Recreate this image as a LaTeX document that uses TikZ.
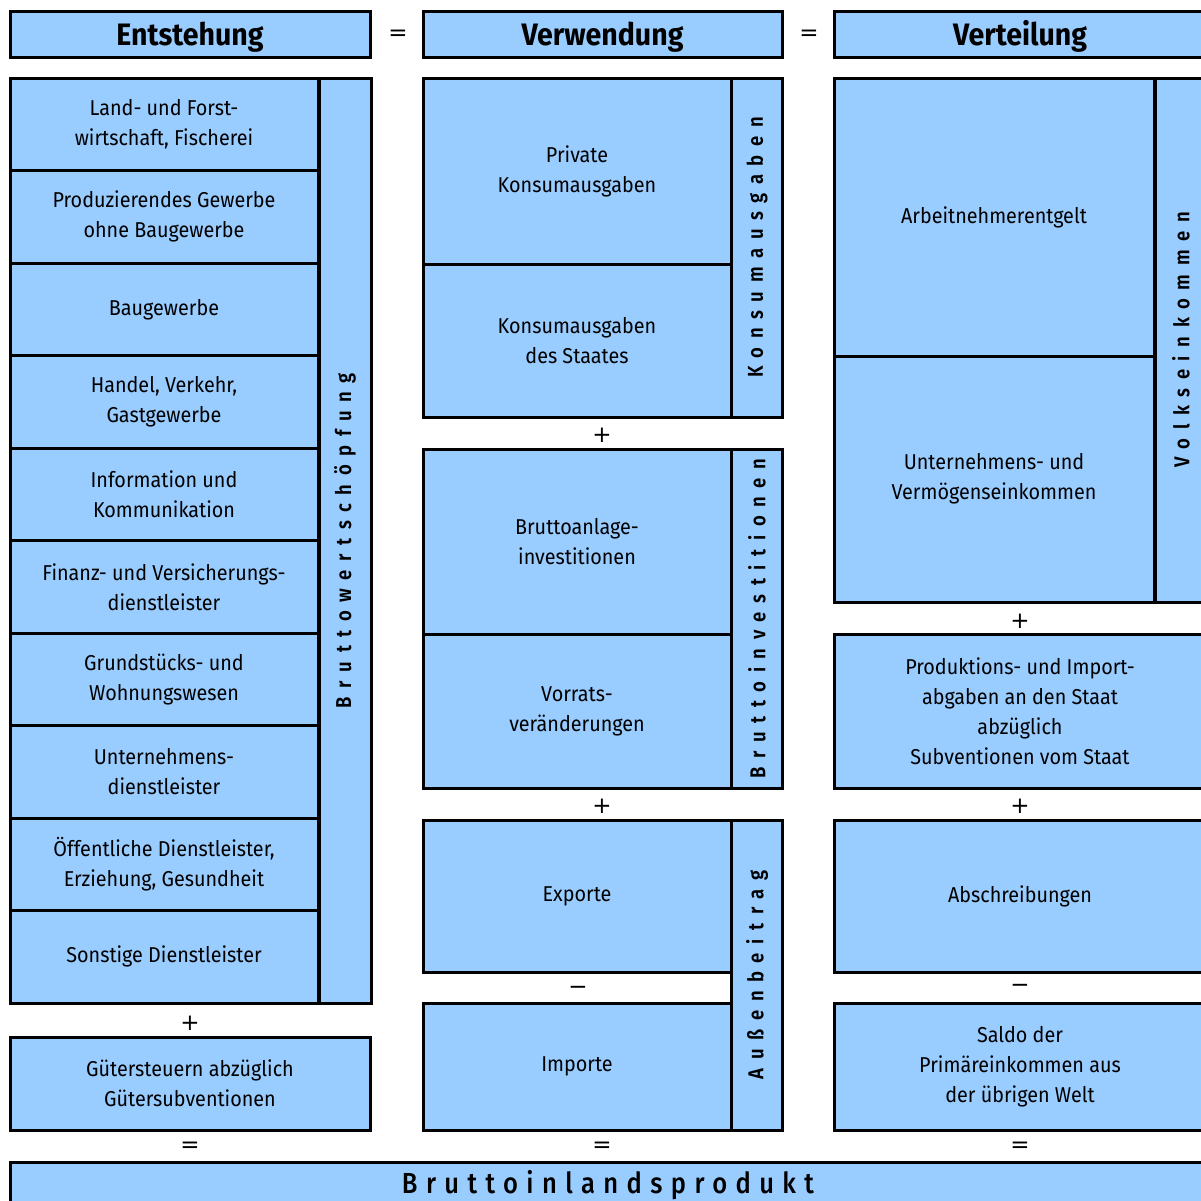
\documentclass[tikz,border=0pt]{standalone}
\usepackage{fontspec}
\setmainfont{Fira Sans}[FakeStretch=0.92]
\newfontfamily\medfont{Fira Sans Medium}[FakeStretch=0.88]
\newfontfamily\semifont{Fira Sans SemiBold}[FakeStretch=0.86]
\newfontfamily\opfont{DejaVu Sans}
\definecolor{boxblue}{RGB}{153,204,255}
\tikzset{
  box/.style={draw=black, line width=3pt, fill=boxblue, align=center, inner sep=0pt,
    font=\fontsize{21.5}{30}\selectfont},
  hdr/.style={box, text height=22pt, text depth=0pt, font=\bfseries\fontsize{31}{36}\selectfont},
  side/.style={box, rotate=90, font=\fontsize{21.5}{26}\selectfont\semifont\addfontfeatures{LetterSpace=40}},
  bigbox/.style={box, font=\fontsize{29}{32}\selectfont\medfont\addfontfeatures{LetterSpace=29}},
  opsign/.style={inner sep=0pt, font=\opfont\fontsize{23}{23}\selectfont}
}
\begin{document}
\begin{tikzpicture}[x=1pt,y=-1pt]
\useasboundingbox (0,0) rectangle (1201,1200);
\fill[white] (0,0) rectangle (1201,1200);
% headers
\node[hdr, minimum width=360pt, minimum height=46pt] (hE) at (190,34) {Entstehung};
\node[hdr, minimum width=359pt, minimum height=46pt] (hV) at (602.5,34) {Verwendung};
\node[hdr, minimum width=372pt, minimum height=46pt] (hT) at (1020,34) {Verteilung};
\node[opsign] (eq1) at (398,35) {=};
\node[opsign] (eq2) at (809,35) {=};
% column 1
\node[box, minimum width=308pt, minimum height=92.5pt] (r1) at (164,124.25) {Land- und Forst-\\wirtschaft, Fischerei};
\node[box, minimum width=308pt, minimum height=92.5pt] (r2) at (164,216.75) {Produzierendes Gewerbe\\ohne Baugewerbe};
\node[box, minimum width=308pt, minimum height=92.5pt] (r3) at (164,309.25) {Baugewerbe};
\node[box, minimum width=308pt, minimum height=92.5pt] (r4) at (164,401.75) {Handel, Verkehr,\\Gastgewerbe};
\node[box, minimum width=308pt, minimum height=92.5pt] (r5) at (164,494.25) {Information und\\Kommunikation};
\node[box, minimum width=308pt, minimum height=92.5pt] (r6) at (164,586.75) {Finanz- und Versicherungs-\\dienstleister};
\node[box, minimum width=308pt, minimum height=92.5pt] (r7) at (164,679.25) {Grundstücks- und\\Wohnungswesen};
\node[box, minimum width=308pt, minimum height=92.5pt] (r8) at (164,771.75) {Unternehmens-\\dienstleister};
\node[box, minimum width=308pt, minimum height=92.5pt] (r9) at (164,864.25) {Öffentliche Dienstleister,\\Erziehung, Gesundheit};
\node[box, minimum width=308pt, minimum height=92.5pt] (r10) at (164,956.75) {Sonstige Dienstleister};
\node[side, minimum width=925pt, minimum height=52pt] (bws) at (345,540.5) {Bruttowertschöpfung};
\node[opsign] (p1) at (190,1023) {+};
\node[box, minimum width=360pt, minimum height=93pt] (gs) at (190,1083.5) {Gütersteuern abzüglich\\Gütersubventionen};
\node[opsign] (e1) at (190,1147) {=};
% column 2
\node[box, minimum width=308pt, minimum height=186pt] (pk) at (577,171) {Private\\Konsumausgaben};
\node[box, minimum width=308pt, minimum height=153pt] (ks) at (577,340.5) {Konsumausgaben\\des Staates};
\node[side, minimum width=339pt, minimum height=51pt] (ksum) at (757,247.5) {Konsumausgaben};
\node[opsign] (p2) at (602,435) {+};
\node[box, minimum width=308pt, minimum height=185pt] (bai) at (577,541.5) {Bruttoanlage-\\investitionen};
\node[box, minimum width=308pt, minimum height=154pt] (vv) at (577,711) {Vorrats-\\veränderungen};
\node[side, minimum width=339pt, minimum height=51pt] (binv) at (757,618.5) {Bruttoinvestitionen};
\node[opsign] (p3) at (602,806) {+};
\node[box, minimum width=308pt, minimum height=152pt] (exp) at (577,896) {Exporte};
\node[opsign] (m1) at (578,990) {−};
\node[box, minimum width=308pt, minimum height=127pt] (imp) at (577,1066.5) {Importe};
\node[side, minimum width=310pt, minimum height=51pt] (ab) at (757,975) {Außenbeitrag};
\node[opsign] (e2) at (602,1147) {=};
% column 3
\node[box, minimum width=320pt, minimum height=278pt] (ane) at (994,217) {Arbeitnehmerentgelt};
\node[box, minimum width=320pt, minimum height=246pt] (uve) at (994,479) {Unternehmens- und\\Vermögenseinkommen};
\node[side, minimum width=524pt, minimum height=52pt] (vek) at (1181,340) {Volkseinkommen};
\node[opsign] (p4) at (1020,621) {+};
\node[box, minimum width=372pt, minimum height=154pt] (pia) at (1020,711) {Produktions- und Import-\\abgaben an den Staat\\abzüglich\\Subventionen vom Staat};
\node[opsign] (p5) at (1020,806) {+};
\node[box, minimum width=372pt, minimum height=152pt] (absch) at (1020,896) {Abschreibungen};
\node[opsign] (m2) at (1020,988) {−};
\node[box, minimum width=372pt, minimum height=127pt] (saldo) at (1020,1066.5) {Saldo der\\Primäreinkommen aus\\der übrigen Welt};
\node[opsign] (e3) at (1020,1147) {=};
% bottom
\node[bigbox, minimum width=1196pt, minimum height=46pt] (bip) at (608,1185) {Bruttoinlandsprodukt};
\end{tikzpicture}
\end{document}
